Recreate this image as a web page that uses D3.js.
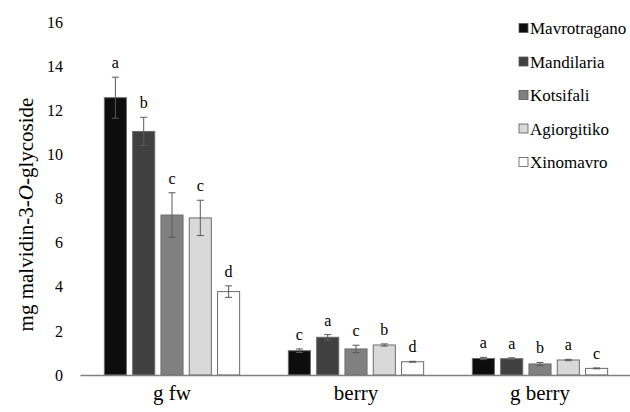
<!DOCTYPE html>
<html>
<head>
<meta charset="utf-8">
<script src="https://cdn.jsdelivr.net/npm/d3@7"></script>
<style>
  body { margin: 0; background: #fff; }
</style>
</head>
<body>
<svg id="chart"></svg>
<script>
// Data
const groups = ["g fw", "berry", "g berry"];
const cultivars = ["Mavrotragano", "Mandilaria", "Kotsifali", "Agiorgitiko", "Xinomavro"];
const colors = ["#0d0d0d", "#404040", "#808080", "#d9d9d9", "#ffffff"];
const yTicks = [0, 2, 4, 6, 8, 10, 12, 14, 16];

// one array per cultivar, one value per group
const means = [
  [12.57, 1.10, 0.75],
  [11.04, 1.71, 0.74],
  [7.25, 1.18, 0.50],
  [7.12, 1.36, 0.68],
  [3.78, 0.60, 0.30]
];
const errors = [
  [0.93, 0.08, 0.05],
  [0.64, 0.12, 0.04],
  [1.01, 0.17, 0.07],
  [0.80, 0.05, 0.03],
  [0.26, 0.02, 0.02]
];
const letters = [
  ["a", "c", "a"],
  ["b", "a", "a"],
  ["c", "c", "b"],
  ["c", "b", "a"],
  ["d", "d", "c"]
];

const SERIF = "'Liberation Serif', 'Times New Roman', Times, serif";

const W = 630, H = 412;
const margin = { top: 22, bottom: 37, left: 80 };
const width = 632 - margin.left;
const height = H - margin.top - margin.bottom;

const svg = d3.select("#chart")
  .attr("width", W)
  .attr("height", H)
  .attr("font-family", SERIF);

const g = svg.append("g")
  .attr("transform", `translate(${margin.left},${margin.top})`);

const x0 = d3.scaleBand()
  .domain(groups)
  .range([0, width]);

const x1 = d3.scaleBand()
  .domain(cultivars)
  .range([0, 141.5])
  .paddingInner(0.22)
  .paddingOuter(0.11);

const y = d3.scaleLinear()
  .domain([0, 16])
  .range([height, 0]);

// y tick labels (no axis line or ticks, like the reference)
const yAxis = g.append("g")
  .call(d3.axisLeft(y).tickValues(yTicks).tickSize(0).tickPadding(17));
yAxis.attr("font-family", SERIF).attr("font-size", 16);
yAxis.select(".domain").remove();
yAxis.selectAll("text").attr("fill", "#000");

// bars
const rows = [];
cultivars.forEach((c, i) => {
  groups.forEach((grp, j) => {
    rows.push({ c, i, grp, v: means[i][j], e: errors[i][j], l: letters[i][j] });
  });
});

const barX = d => x0(d.grp) + (x0.bandwidth() - 141.5) / 2 + x1(d.c);
const cx = d => barX(d) + x1.bandwidth() / 2;

g.selectAll("rect.bar")
  .data(rows)
  .enter()
  .append("rect")
  .attr("class", "bar")
  .attr("x", barX)
  .attr("y", d => y(d.v))
  .attr("width", x1.bandwidth())
  .attr("height", d => y(0) - y(d.v))
  .attr("fill", d => colors[d.i])
  .attr("stroke", "#6b6b6b")
  .attr("stroke-width", 1);

// error bars
const eb = g.selectAll("g.err")
  .data(rows)
  .enter()
  .append("g")
  .attr("class", "err")
  .attr("stroke", "#5a5a5a")
  .attr("stroke-width", 1);

eb.append("line")
  .attr("x1", cx).attr("x2", cx)
  .attr("y1", d => y(d.v + d.e)).attr("y2", d => y(d.v - d.e));
eb.append("line")
  .attr("x1", d => cx(d) - 3.5).attr("x2", d => cx(d) + 3.5)
  .attr("y1", d => y(d.v + d.e)).attr("y2", d => y(d.v + d.e));
eb.append("line")
  .attr("x1", d => cx(d) - 3.5).attr("x2", d => cx(d) + 3.5)
  .attr("y1", d => y(d.v - d.e)).attr("y2", d => y(d.v - d.e));

// significance letters
g.selectAll("text.letter")
  .data(rows)
  .enter()
  .append("text")
  .attr("class", "letter")
  .attr("x", cx)
  .attr("y", d => y(d.v + d.e) - 9)
  .attr("text-anchor", "middle")
  .attr("font-family", SERIF)
  .attr("font-size", 16)
  .attr("fill", "#000")
  .text(d => d.l);

// x axis line and category labels
const xAxis = g.append("g")
  .attr("transform", `translate(0,${height})`)
  .call(d3.axisBottom(x0).tickSize(0).tickPadding(10));
xAxis.attr("font-family", SERIF).attr("font-size", 21);
xAxis.select(".domain")
  .attr("stroke", "#7f7f7f")
  .attr("stroke-width", 1.3);
xAxis.selectAll("text").attr("fill", "#000");

// y title
const title = svg.append("text")
  .attr("transform", `translate(33,${margin.top + height / 2 + 16}) rotate(-90)`)
  .attr("text-anchor", "middle")
  .attr("font-family", SERIF)
  .attr("font-size", 21)
  .attr("fill", "#000");
title.append("tspan").text("mg malvidin-3-");
title.append("tspan").attr("font-style", "italic").text("O");
title.append("tspan").text("-glycoside");

// legend
const legend = svg.append("g")
  .attr("transform", "translate(519,28)");
const item = legend.selectAll("g")
  .data(cultivars)
  .enter()
  .append("g")
  .attr("transform", (d, i) => `translate(0,${i * 33.5})`);
item.append("rect")
  .attr("x", 0).attr("y", -4.5)
  .attr("width", 9).attr("height", 9)
  .attr("fill", (d, i) => colors[i])
  .attr("stroke", "#595959")
  .attr("stroke-width", 0.8);
item.append("text")
  .attr("x", 11)
  .attr("y", 6)
  .attr("font-family", SERIF)
  .attr("font-size", 17)
  .attr("fill", "#000")
  .text(d => d);
</script>
</body>
</html>
